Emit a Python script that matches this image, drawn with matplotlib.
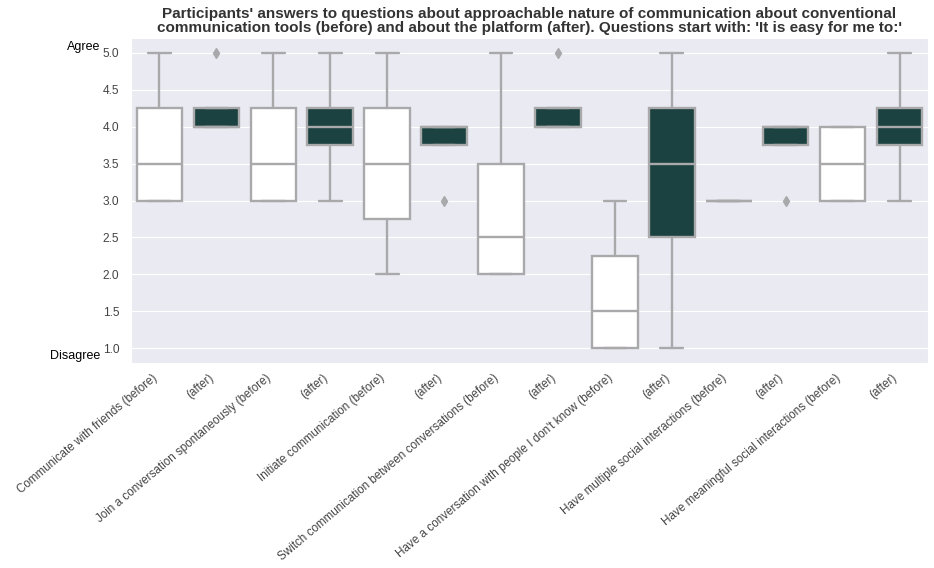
import matplotlib
matplotlib.use("Agg")
import matplotlib.pyplot as plt
import seaborn as sns

sns.set_style("darkgrid")
plt.rcParams['font.family'] = ['Liberation Sans', 'DejaVu Sans']

labels = [
    "Communicate with friends (before)", "(after)",
    "Join a conversation spontaneously (before)", "(after)",
    "Initiate communication (before)", "(after)",
    "Switch communication between conversations (before)", "(after)",
    "Have a conversation with people I don't know (before)", "(after)",
    "Have multiple social interactions (before)", "(after)",
    "Have meaningful social interactions (before)", "(after)",
]

# box statistics per question (Likert 1-5)
whislo = [3, 4.0, 3, 3, 2, 3.75, 2, 4.0, 1, 1, 3, 3.75, 3, 3]
q1 = [3, 4.0, 3, 3.75, 2.75, 3.75, 2, 4.0, 1, 2.5, 3, 3.75, 3, 3.75]
med = [3.5, 4.0, 3.5, 4.0, 3.5, 4.0, 2.5, 4.0, 1.5, 3.5, 3, 4.0, 3.5, 4.0]
q3 = [4.25, 4.25, 4.25, 4.25, 4.25, 4.0, 3.5, 4.25, 2.25, 4.25, 3, 4.0, 4.0, 4.25]
whishi = [5, 4.25, 5, 5, 5, 4.0, 5, 4.25, 3, 5, 3, 4.0, 4.0, 5]
fliers = [[], [5], [], [], [], [3], [], [5], [], [], [], [3], [], []]

stats = []
for i in range(len(labels)):
    stats.append(dict(whislo=whislo[i], q1=q1[i], med=med[i], q3=q3[i],
                      whishi=whishi[i], fliers=fliers[i]))

edge = "#a9a9ab"
fills = ["white", "#1b4240"] * 7

fig = plt.figure(figsize=(9.34, 5.68), dpi=100)
ax = fig.add_axes([131 / 934, 1 - 363 / 568, 797 / 934, 325 / 568])

line_kw = dict(color=edge, linewidth=1.7)
bp = ax.bxp(stats, positions=range(len(labels)), widths=0.8, patch_artist=True,
            boxprops=dict(edgecolor=edge, linewidth=1.7),
            medianprops=line_kw, whiskerprops=line_kw, capprops=line_kw,
            flierprops=dict(marker='d', markerfacecolor=edge, markeredgecolor=edge,
                            markersize=5),
            capwidths=0.4)
for patch, c in zip(bp['boxes'], fills):
    patch.set_facecolor(c)

ax.set_xlim(-0.5, len(labels) - 0.5)
ax.set_ylim(0.8, 5.2)
ax.set_yticks([1.0, 1.5, 2.0, 2.5, 3.0, 3.5, 4.0, 4.5, 5.0])
ax.set_yticklabels(["1.0", "1.5", "2.0", "2.5", "3.0", "3.5", "4.0", "4.5", "5.0"])
ax.set_xticks(range(len(labels)))
ax.set_xticklabels(labels, rotation=40, ha='right')
ax.tick_params(axis='x', labelsize=8.4, labelcolor="#444444", pad=3)
ax.tick_params(axis='y', labelsize=8.6, labelcolor="#444444", pad=5)
ax.grid(axis='x', visible=False)

ax.text(-0.038, 0.972, "Agree", transform=ax.transAxes, ha='right', va='center',
        fontsize=9, color="black")
ax.text(-0.038, 0.02, "Disagree", transform=ax.transAxes, ha='right', va='center',
        fontsize=9, color="black")

ax.set_title("Participants' answers to questions about approachable nature of communication about conventional\n"
             "communication tools (before) and about the platform (after). Questions start with: 'It is easy for me to:'",
             fontsize=11, fontweight='bold', color="#333333", linespacing=1.0, pad=4)

fig.savefig("out.png", dpi=100)
